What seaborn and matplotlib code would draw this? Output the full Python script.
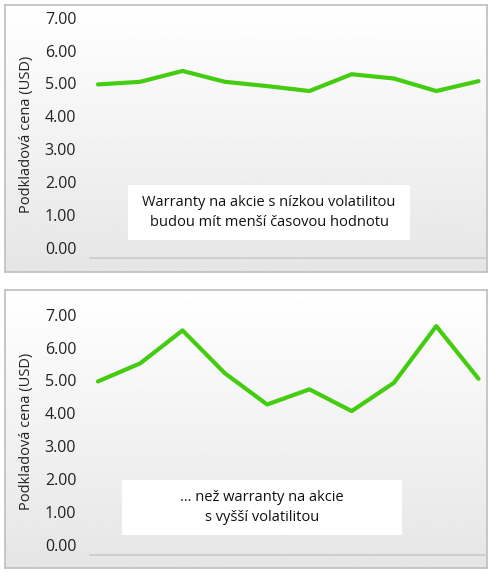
import numpy as np
import matplotlib
matplotlib.use("Agg")
import matplotlib.pyplot as plt
import seaborn as sns
import pandas as pd
from matplotlib.patches import Rectangle

sns.set_theme(style="white")
plt.rcParams['font.family'] = ['Open Sans', 'DejaVu Sans']

x_idx = list(range(10))
low_vol = [4.97, 5.05, 5.38, 5.05, 4.92, 4.77, 5.28, 5.15, 4.77, 5.07]
high_vol = [4.97, 5.52, 6.52, 5.22, 4.27, 4.73, 4.07, 4.93, 6.65, 5.05]
yticks = [0, 1, 2, 3, 4, 5, 6, 7]
ylabel = "Podkladová cena (USD)"
texts = ["Warranty na akcie s nízkou volatilitou\nbudou mít menší časovou hodnotu",
         "… než warranty na akcie\ns vyšší volatilitou"]

W, H = 493, 572
fig = plt.figure(figsize=(W/100, H/100), dpi=100)

def fr(x0, y0, x1, y1):
    return [x0/W, 1-y1/H, (x1-x0)/W, (y1-y0)/H]

grad = np.linspace(1.0, 0.90, 100).reshape(-1, 1)
for (py0, py1) in [(5, 272), (290, 568)]:
    bg = fig.add_axes(fr(5, py0, 487, py1))
    bg.imshow(grad, aspect='auto', cmap='gray', vmin=0, vmax=1, extent=[0, 1, 0, 1])
    bg.set_xticks([]); bg.set_yticks([])
    for s in bg.spines.values():
        s.set_color('#c0c0c0')

panels = [(low_vol, (11, 258), (128, 185, 410, 240), texts[0]),
          (high_vol, (308, 555), (122, 480, 402, 535), texts[1])]
for vals, (ay0, ay1), box, txt in panels:
    ax = fig.add_axes(fr(89.5, ay0, 487, ay1))
    ax.patch.set_alpha(0)
    df = pd.DataFrame({"x": x_idx, "y": vals})
    sns.lineplot(data=df, x="x", y="y", ax=ax, color="#44cc11", linewidth=3)
    ax.set_xlim(-0.2, 9.2)
    ax.set_ylim(-0.3, 7.2)
    ax.set_yticks(yticks)
    ax.set_yticklabels([f"{v:.2f}" for v in yticks], fontsize=11.5, color='#222222')
    ax.set_xticks([])
    ax.set_xlabel("")
    ax.set_ylabel(ylabel, fontsize=10.5, color='#222222', labelpad=8)
    for k in ['top', 'right', 'left']:
        ax.spines[k].set_visible(False)
    ax.spines['bottom'].set_color('#cccccc')
    bx0, by0, bx1, by1 = box
    fig.patches.append(Rectangle((bx0/W, 1-by1/H), (bx1-bx0)/W, (by1-by0)/H,
                                 transform=fig.transFigure, facecolor='white',
                                 edgecolor='none', zorder=5))
    fig.text((bx0+bx1)/2/W, 1-(by0+by1)/2/H, txt, ha='center', va='center',
             fontsize=10.5, color='#111111', linespacing=1.5, zorder=6)

fig.savefig("out.png", dpi=100)
